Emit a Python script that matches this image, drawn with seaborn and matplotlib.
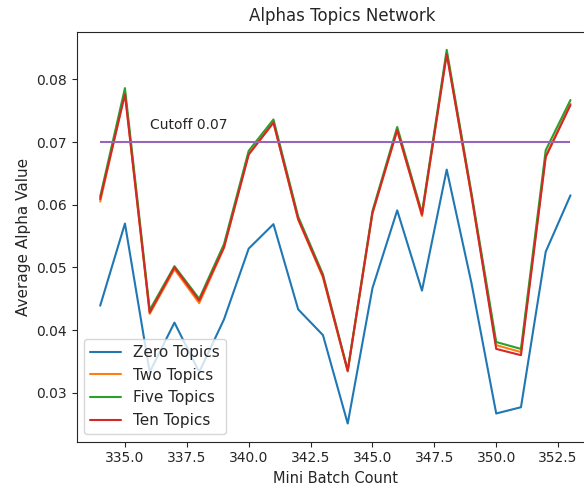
import matplotlib
matplotlib.use("Agg")
import matplotlib.pyplot as plt
import numpy as np
import pandas as pd
import seaborn as sns

# Mini batch indices
batches = list(range(334, 354))

# Average alpha value per mini batch for each topic setting
zero_topics = [0.0439, 0.0570, 0.0333, 0.0412, 0.0333, 0.0417, 0.0530, 0.0569, 0.0433, 0.0392,
               0.0251, 0.0467, 0.0591, 0.0463, 0.0656, 0.0475, 0.0267, 0.0277, 0.0525, 0.0615]
two_topics = [0.0605, 0.0779, 0.0426, 0.0497, 0.0443, 0.0531, 0.0681, 0.0731, 0.0576, 0.0484,
              0.0334, 0.0586, 0.0719, 0.0582, 0.0842, 0.0614, 0.0376, 0.0365, 0.0678, 0.0761]
five_topics = [0.0613, 0.0786, 0.0432, 0.0502, 0.0450, 0.0537, 0.0686, 0.0736, 0.0581, 0.0489,
               0.0336, 0.0590, 0.0724, 0.0587, 0.0847, 0.0619, 0.0381, 0.0370, 0.0687, 0.0767]
ten_topics = [0.0609, 0.0776, 0.0428, 0.0500, 0.0447, 0.0532, 0.0680, 0.0731, 0.0577, 0.0486,
              0.0335, 0.0587, 0.0719, 0.0584, 0.0840, 0.0615, 0.0370, 0.0360, 0.0676, 0.0759]

series_names = ["Zero Topics", "Two Topics", "Five Topics", "Ten Topics"]
cutoff = 0.07

frames = []
for name, vals in zip(series_names, [zero_topics, two_topics, five_topics, ten_topics]):
    frames.append(pd.DataFrame({"batch": batches, "alpha": vals, "series": name}))
df = pd.concat(frames, ignore_index=True)

sns.set_style("ticks")
plt.rcParams["font.family"] = ["DejaVu Sans"]

fig = plt.figure(figsize=(5.84, 4.91), dpi=100)
ax = fig.add_axes([0.1313, 0.1004, 0.8858, 0.8338])

sns.lineplot(data=df, x="batch", y="alpha", hue="series", hue_order=series_names,
             palette=["#1f77b4", "#ff7f0e", "#2ca02c", "#d62728"], linewidth=1.5, ax=ax)

ax.hlines(cutoff, batches[0], batches[-1], color="#9467bd", linewidth=1.5)
ax.text(336.0, cutoff + 0.0021, f"Cutoff {cutoff}", fontsize=10)

ax.set_xlim(333.05, 353.95)
ax.set_ylim(0.0222, 0.0875)
xt = [335.0, 337.5, 340.0, 342.5, 345.0, 347.5, 350.0, 352.5]
ax.set_xticks(xt)
ax.set_xticklabels([f"{t:.1f}" for t in xt])
ax.set_yticks([0.03, 0.04, 0.05, 0.06, 0.07, 0.08])
ax.set_yticklabels(["0.03", "0.04", "0.05", "0.06", "0.07", "0.08"])
ax.tick_params(labelsize=10)

ax.set_title("Alphas Topics Network", fontsize=12, x=0.513, pad=8.5)
ax.set_xlabel("Mini Batch Count", fontsize=10.5)
ax.set_ylabel("Average Alpha Value", fontsize=11)

sns.move_legend(ax, "lower left", title=None, fontsize=11)

fig.savefig("out.png", dpi=100)
